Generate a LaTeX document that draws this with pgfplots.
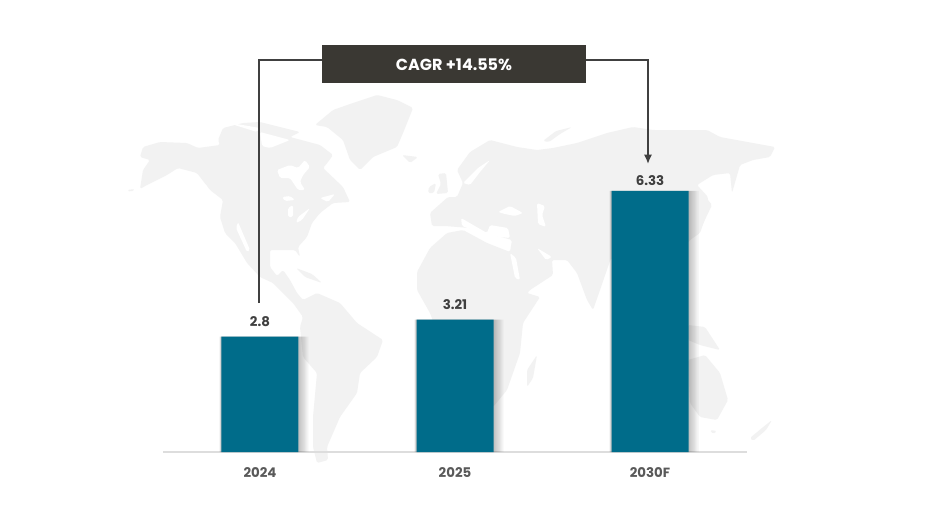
\documentclass[border=0pt]{standalone}
\usepackage{pgfplots}
\pgfplotsset{compat=1.18}
\usepackage{pgfplotstable}
\usetikzlibrary{arrows.meta}
\usepackage{fontspec}
\setmainfont{Poppins}
\definecolor{barteal}{HTML}{006C8A}
\definecolor{mapgray}{HTML}{F2F2F2}
\definecolor{boxdark}{HTML}{3A3833}
\definecolor{linedark}{HTML}{404040}
\definecolor{ticktext}{HTML}{595959}
\definecolor{basegray}{HTML}{DDDDDD}
\pgfplotstableread{
x y off
0 2.8 3.5
1 3.21 4.2
2 6.33 0.8
}\marketdata
\begin{document}
\begin{tikzpicture}[x=0.75pt,y=-0.75pt]
\path[fill=white] (0,0) rectangle (925,521);
% --- decorative world map ---
\begin{scope}[mapgray,rounded corners=1.2pt]
% North + Central America
\fill (143,147)--(160,142)--(187,143)--(198,148)--(220,145)--(218,140)--(223,128)--(243,123)--(260,122)--(300,132)--(290,137)--(320,145)--(333,155)--(328,162)--(323,168)--(343,187)--(350,202)--(333,203)--(320,213)--(312,223)--(307,237)--(298,247)--(300,257)--(295,250)--(270,250)--(270,267)--(277,276)--(283,270)--(290,280)--(297,293)--(303,300)--(317,293)--(340,303)--(357,323)--(383,340)--(377,357)--(360,373)--(357,393)--(340,417)--(327,447)--(328,460)--(317,463)--(313,447)--(313,417)--(317,373)--(303,357)--(300,327)--(303,317)--(293,303)--(287,297)--(273,283)--(260,277)--(247,263)--(235,243)--(225,233)--(220,217)--(223,200)--(210,190)--(197,173)--(178,168)--(167,175)--(147,185)--(140,189)--(143,170)--(150,160)--(140,157)--cycle;
\fill (127,190)--(135,189)--(131,192)--cycle;
% Caribbean
\fill (296,268)--(312,274)--(322,283)--(305,277)--cycle;
% Greenland
\fill (315,125)--(333,110)--(353,103)--(377,95)--(397,100)--(413,108)--(403,133)--(397,147)--(373,157)--(360,170)--(350,160)--(343,140)--(327,127)--cycle;
% Iceland
\fill (402,155)--(418,157)--(410,163)--cycle;
% UK, Ireland
\fill (438,174)--(446,173)--(448,193)--(436,194)--(441,184)--cycle;
\fill (429,187)--(436,183)--(434,193)--(428,193)--cycle;
% Novaya Zemlya
\fill (543,141)--(556,131)--(572,127)--(560,134)--(549,142)--cycle;
% Eurasia + Africa
\fill (430,213)--(448,197)--(457,197)--(463,183)--(457,170)--(470,152)--(490,140)--(517,147)--(537,150)--(553,148)--(577,143)--(607,133)--(633,127)--(653,130)--(707,130)--(720,137)--(775,147)--(770,157)--(753,160)--(740,165)--(732,193)--(730,173)--(713,175)--(697,185)--(708,197)--(707,213)--(700,233)--(690,240)--(670,260)--(640,270)--(611,258)--(600,290)--(593,310)--(587,300)--(577,273)--(567,260)--(552,260)--(553,275)--(530,290)--(527,293)--(540,297)--(523,323)--(520,353)--(507,390)--(493,407)--(460,400)--(440,340)--(430,313)--(417,290)--(417,272)--(430,248)--(447,233)--(463,230)--(487,243)--(510,252)--(512,240)--(470,228)--(445,226)--(432,226)--cycle;
% Madagascar
\fill (537,355)--(533,378)--(527,387)--(527,370)--cycle;
% Japan
\fill (700,190)--(712,205)--(700,230)--(690,235)--(700,215)--cycle;
% Indonesia + Australia
\fill (688,325)--(705,327)--(720,350)--(700,345)--(688,340)--cycle;
\fill (688,360)--(705,355)--(720,373)--(728,400)--(717,420)--(700,417)--(690,403)--cycle;
\fill (710,430)--(717,431)--(713,434)--cycle;
\fill (772,420)--(766,430)--(753,441)--(750,438)--(762,428)--cycle;
% water bodies
\begin{scope}[white]
\fill (277,170)--(290,165)--(298,168)--(305,160)--(310,167)--(303,175)--(300,182)--(305,190)--(298,190)--(290,178)--(280,178)--cycle;
\fill (463,183)--(478,168)--(490,160)--(480,172)--(470,185)--cycle;
\fill (498,212)--(510,206)--(523,213)--(515,216)--(505,214)--cycle;
\fill (537,203)--(545,206)--(542,215)--(546,227)--(538,224)--cycle;
\fill (510,253)--(516,258)--(520,280)--(515,278)--cycle;
\fill (537,248)--(552,257)--(546,260)--cycle;
\fill (461,218)--(487,233)--(490,225)--(508,228)--(510,238)--(490,236)--(462,226)--cycle;
\fill (288,208)--(293,205)--(293,217)--(288,217)--cycle;
\fill (298,217)--(310,208)--(302,220)--(296,223)--cycle;
\fill (282,197)--(290,196)--(295,200)--(285,201)--cycle;
\fill (320,198)--(335,194)--(328,202)--cycle;
\fill (238,222)--(250,250)--(247,252)--(236,228)--cycle;
\fill (205,183)--(212,195)--(208,195)--cycle;
\fill (225,122)--(260,128)--(257,132)--cycle;
\fill (260,132)--(290,140)--(270,148)--(262,146)--cycle;
\end{scope}
\end{scope}
% --- chart ---
\begin{axis}[
  at={(122.25pt,-339pt)}, anchor=south west,
  scale only axis, width=438pt, height=300pt,
  clip=false,
  xmin=-0.4974, xmax=2.4974, ymin=0, ymax=9.7,
  axis y line=none, axis x line=bottom,
  axis line style={basegray,line width=0.9pt,-},
  xtick=data, xticklabels={2024,2025,2030F},
  xticklabel style={ticktext,font=\bfseries\fontsize{10}{12}\selectfont,yshift=-8pt},
  major tick length=0pt,
  ybar, bar width=57.75pt,
]
\pgfplotsinvokeforeach{1,2,...,8}{
  \addplot[ybar,forget plot,draw=none,fill=black,fill opacity=0.03,
    bar shift={#1*0.38pt},bar width={57.75pt+#1*1.16pt}] table[x=x,y=y]{\marketdata};
}
\addplot[ybar,bar shift=0pt,draw=none,fill=barteal,
  visualization depends on={\thisrow{off} \as \labeloff},
  nodes near coords,
  every node near coord/.append style={linedark,font=\bfseries\fontsize{10}{12}\selectfont,
    /pgf/number format/assume math mode=true,yshift=\labeloff pt}]
  table[x=x,y=y]{\marketdata};
\end{axis}
% --- CAGR connector ---
\draw[linedark,line width=1.4pt] (259,303)--(259,60)--(322,60);
\draw[linedark,line width=1.2pt,-{Latex[length=7pt,width=6pt]}] (586,60)--(648,60)--(648,164);
\fill[boxdark] (322,45) rectangle (586,83);
\node[white,font=\bfseries\fontsize{12}{14}\selectfont] at (454,65) {CAGR +14.55\%};
\end{tikzpicture}
\end{document}
